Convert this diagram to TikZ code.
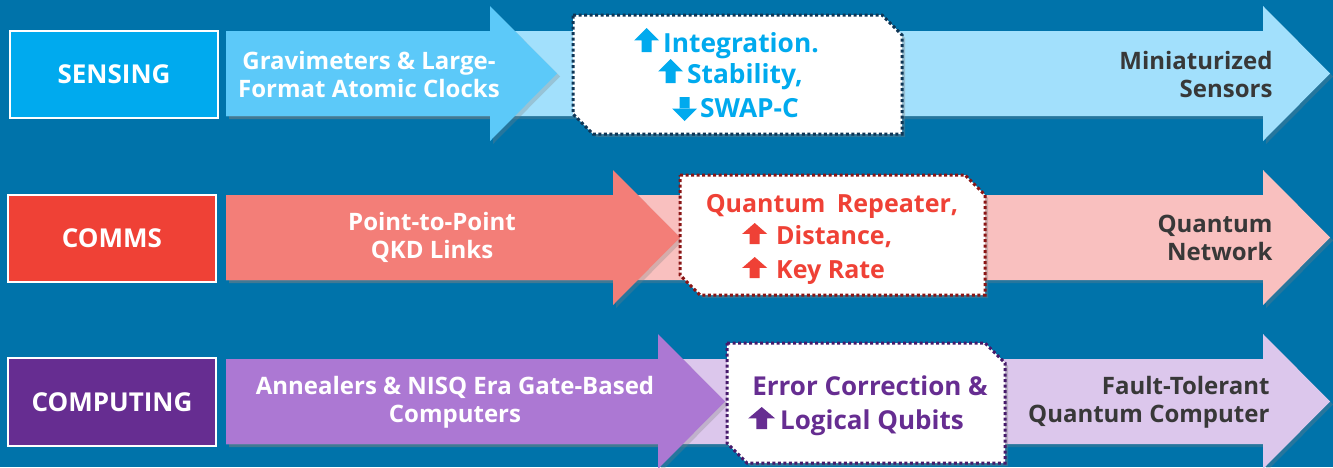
\documentclass[tikz,border=0pt]{standalone}
\usepackage{fontspec}
\setmainfont{Open Sans}
\usetikzlibrary{shadows}

\definecolor{bg}{HTML}{0073AA}
\definecolor{senseDark}{HTML}{00AAEE}
\definecolor{senseMid}{HTML}{5CC9F9}
\definecolor{senseLight}{HTML}{A2E0FC}
\definecolor{senseLine}{HTML}{0F3656}
\definecolor{commDark}{HTML}{EF4136}
\definecolor{commMid}{HTML}{F37E78}
\definecolor{commLight}{HTML}{F9C0BF}
\definecolor{commLine}{HTML}{8A1515}
\definecolor{compDark}{HTML}{662D91}
\definecolor{compMid}{HTML}{AC78D3}
\definecolor{compLight}{HTML}{DCC7EC}
\definecolor{compLine}{HTML}{461A6A}
\definecolor{goalText}{HTML}{383838}

% block arrow: #1 style, #2 x start, #3 x tip, #4 y centre
\newcommand\bandarrow[4]{%
  \path[#1] (#2,#4-42.5) -- (#3-67,#4-42.5) -- (#3-67,#4-67.5) -- (#3,#4)
    -- (#3-67,#4+67.5) -- (#3-67,#4+42.5) -- (#2,#4+42.5) -- cycle;}

% white milestone box with two snipped corners: #1 colour, #2..#5 left, top, right, bottom
\newcommand\milestone[5]{%
  \path[fill=white, draw=#1, line width=3pt, dash pattern=on 3pt off 2.5pt,
        drop shadow={shadow xshift=3pt, shadow yshift=-3pt, opacity=.35}]
    (#2,#3) -- (#4-20,#3) -- (#4,#3+20) -- (#4,#5) -- (#2+20,#5) -- (#2,#5-20) -- cycle;}

% filled up / down arrow glyphs used inside the milestone texts: #1 colour, #2 width, #3 height
\newcommand\upglyph[3]{\tikz[baseline=0pt,x=1pt,y=1pt]\fill[#1]
  ({#2*0.3},0) rectangle ({#2*0.7},{#3*0.5}) (0,{#3*0.48}) -- (#2,{#3*0.48}) -- ({#2/2},#3) -- cycle;}
\newcommand\downglyph[3]{\tikz[baseline=4pt,x=1pt,y=1pt]\fill[#1]
  ({#2*0.3},#3) rectangle ({#2*0.7},{#3*0.5}) (0,{#3*0.52}) -- (#2,{#3*0.52}) -- ({#2/2},0) -- cycle;}

\tikzset{
  areatext/.style={text=white, font=\fontsize{26}{30}\selectfont\bfseries},
  stagetext/.style={text=white, align=center,
    font=\fontsize{24}{28}\selectfont\bfseries},
  goaltext/.style={text=goalText, align=right, anchor=east,
    font=\fontsize{24}{28}\selectfont\bfseries},
  mstext/.style={font=\fontsize{#1}{30}\selectfont\bfseries, anchor=base west, inner sep=0pt},
  mstext/.default=26,
  ashadow/.style={drop shadow={shadow xshift=3pt, shadow yshift=-3pt, opacity=.3}}
}

\begin{document}
\begin{tikzpicture}[x=1pt,y=-1pt]
\fill[bg] (0,0) rectangle (1333,467);
\useasboundingbox (0,0) rectangle (1333,467);

% ---------------- sensing ----------------
\bandarrow{fill=senseLight, ashadow}{226}{1330}{73.5}
\bandarrow{fill=senseMid, ashadow}{226}{557}{73.5}
\milestone{senseLine}{573}{15}{902}{134}
\fill[senseDark, draw=white, line width=1.6pt] (10,31) rectangle (218,118);
\node[areatext] (sensing) at (114,74.5) {SENSING};
\node[stagetext] (sensestage) at (369,74) {Gravimeters \& Large-\\Format Atomic Clocks};
\node[goaltext] (sensegoal) at (1276,74) {Miniaturized\\Sensors};
\node[mstext=26.3, text=senseDark] (sense1) at (634,52) {\upglyph{senseDark}{25}{24}\hspace{4pt}Integration.};
\node[mstext=26.3, text=senseDark] (sense2) at (658,83) {\upglyph{senseDark}{25}{24}\hspace{4pt}Stability,};
\node[mstext=26.3, text=senseDark] (sense3) at (672,117) {\downglyph{senseDark}{25}{24}\hspace{3pt}SWAP-C};

% ---------------- comms ----------------
\bandarrow{fill=commLight, ashadow}{226}{1330}{237.5}
\bandarrow{fill=commMid, ashadow}{226}{680}{237.5}
\milestone{commLine}{680}{175}{985}{295}
\fill[commDark, draw=white, line width=1.6pt] (8,195) rectangle (216,282);
\node[areatext] (comms) at (112,238.5) {COMMS};
\node[stagetext] (commstage) at (432,237) {Point-to-Point\\QKD Links};
\node[goaltext] (commgoal) at (1276,238) {Quantum\\Network};
\node[mstext=25, anchor=base, text=commDark] (comm1) at (832,212) {Quantum\hspace{5pt} Repeater,};
\node[mstext=25, text=commDark] (comm2) at (742,244) {\upglyph{commDark}{25}{21}\hspace{9pt}Distance,};
\node[mstext=25, text=commDark] (comm3) at (742,278) {\upglyph{commDark}{25}{21}\hspace{9pt}Key Rate};

% ---------------- computing ----------------
\bandarrow{fill=compLight, ashadow}{226}{1330}{401.5}
\bandarrow{fill=compMid, ashadow}{226}{725}{401.5}
\milestone{compLine}{727}{343}{1005}{463}
\fill[compDark, draw=white, line width=1.6pt] (8,358) rectangle (216,446);
\node[areatext] (computing) at (112,402.5) {COMPUTING};
\node[stagetext] (compstage) at (455,402) {Annealers \& NISQ Era Gate-Based\\Computers};
\node[goaltext] (compgoal) at (1273,402) {Fault-Tolerant\\Quantum Computer};
\node[mstext=26, anchor=base, text=compDark] (comp1) at (870,395) {Error Correction \&};
\node[mstext=26, text=compDark] (comp2) at (748,429) {\upglyph{compDark}{27}{22}\hspace{5pt}Logical Qubits};
\end{tikzpicture}
\end{document}
